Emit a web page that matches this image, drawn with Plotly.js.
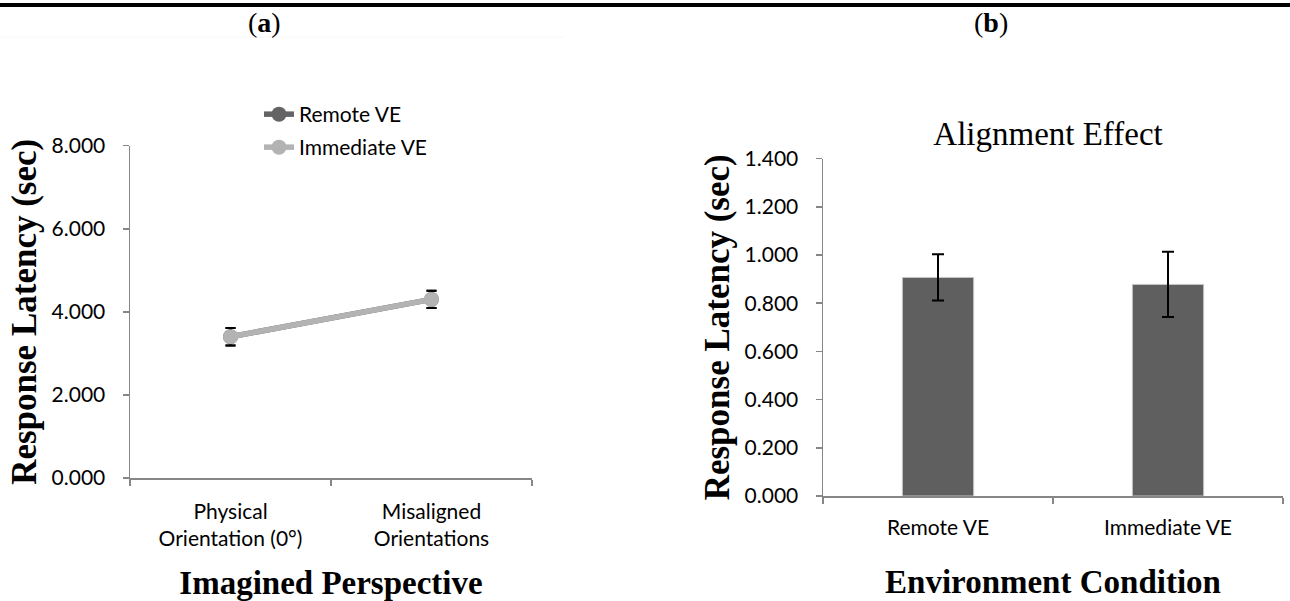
<!DOCTYPE html>
<html><head><meta charset="utf-8">
<script src="https://cdn.plot.ly/plotly-3.0.1.min.js"></script>
<style>html,body{margin:0;padding:0;background:#fff}#chart{width:1290px;height:601px}</style>
</head><body><div id="chart"></div>
<script>
// ---- data ----
const perspectives = ["Physical<br>Orientation (0°)", "Misaligned<br>Orientations"];
const remoteLatency = [3.40, 4.30];
const remoteErr = [0.21, 0.21];
const immediateLatency = [3.40, 4.30];
const immediateErr = [0.21, 0.21];
const environments = ["Remote VE", "Immediate VE"];
const alignmentEffect = [0.907, 0.878];
const alignmentErr = [0.096, 0.135];
const yTicksA = [0, 2, 4, 6, 8];
const yTicksB = [0, 0.2, 0.4, 0.6, 0.8, 1.0, 1.2, 1.4];

// ---- layout helpers ----
const W = 1290, H = 601;
const px = v => v / W;
const py = v => 1 - v / H;
const axisGrey = '#868686';
const tickFont = {family: 'Lato, "Open Sans", sans-serif', size: 21, color: '#000'};
const serif = '"Liberation Serif", "Times New Roman", serif';
const xTitleFont = {family: serif, size: 33, color: '#000', weight: 'bold'};
const yTitleFont = {family: serif, size: 35, color: '#000', weight: 'bold'};

const traces = [
  {
    type: 'scatter', mode: 'lines+markers', name: 'Remote VE', legend: 'legend',
    x: perspectives, y: remoteLatency, xaxis: 'x', yaxis: 'y',
    line: {color: '#646464', width: 5.5},
    marker: {color: '#646464', size: 15},
    error_y: {type: 'data', array: remoteErr, visible: true, color: '#000', thickness: 2, width: 5}
  },
  {
    type: 'scatter', mode: 'lines+markers', name: 'Immediate VE', legend: 'legend2',
    x: perspectives, y: immediateLatency, xaxis: 'x', yaxis: 'y',
    line: {color: '#b3b3b3', width: 5.5},
    marker: {color: '#b3b3b3', size: 15},
    error_y: {type: 'data', array: immediateErr, visible: true, color: '#000', thickness: 2, width: 5}
  },
  {
    type: 'bar', name: 'Alignment Effect', showlegend: false,
    x: environments, y: alignmentEffect, xaxis: 'x2', yaxis: 'y2',
    marker: {color: '#5f5f5f', line: {color: '#c8c8c8', width: 1}},
    error_y: {type: 'data', array: alignmentErr, visible: true, color: '#000', thickness: 2, width: 6}
  }
];

const commonX = {
  type: 'category', showline: true, linecolor: axisGrey, linewidth: 1.5,
  ticks: 'outside', tickson: 'boundaries', ticklen: 6, tickcolor: axisGrey, tickwidth: 1.5,
  tickfont: tickFont, showgrid: false, zeroline: false, automargin: false,
  range: [-0.5, 1.5], fixedrange: true
};
const commonY = {
  showline: true, linecolor: axisGrey, linewidth: 1.5,
  ticks: 'outside', ticklen: 6, tickcolor: axisGrey, tickwidth: 1.5,
  tickfont: tickFont, showgrid: false, zeroline: false, automargin: false,
  tickformat: '.3f', ticklabelstandoff: 13, fixedrange: true
};

const layout = {
  width: W, height: H,
  margin: {l: 0, r: 0, t: 0, b: 0},
  paper_bgcolor: '#fff', plot_bgcolor: '#fff',
  bargap: 0.69,
  title: {
    text: 'Alignment Effect', x: px(1048), y: py(133), xanchor: 'center', yanchor: 'middle',
    xref: 'paper', yref: 'paper',
    font: {family: serif, size: 33, color: '#000'}
  },
  xaxis: Object.assign({}, commonX, {
    domain: [px(130), px(532)], anchor: 'y', ticklabelstandoff: 14,
    title: {text: 'Imagined Perspective', font: xTitleFont, standoff: 22}
  }),
  yaxis: Object.assign({}, commonY, {
    domain: [py(478), py(145.7)], anchor: 'x', range: [0, 8], tickvals: yTicksA,
    title: {text: 'Response Latency (sec)', font: yTitleFont, standoff: 4}
  }),
  xaxis2: Object.assign({}, commonX, {
    domain: [px(823), px(1283)], anchor: 'y2', ticklabelstandoff: 12,
    title: {text: 'Environment Condition', font: xTitleFont, standoff: 32}
  }),
  yaxis2: Object.assign({}, commonY, {
    domain: [py(496), py(158.6)], anchor: 'x2', range: [0, 1.4], tickvals: yTicksB,
    title: {text: 'Response Latency (sec)', font: yTitleFont, standoff: 4}
  }),
  legend: {
    x: px(259), y: py(94), xanchor: 'left', yanchor: 'top',
    font: tickFont, bgcolor: 'rgba(0,0,0,0)', borderwidth: 0
  },
  legend2: {
    x: px(259), y: py(127), xanchor: 'left', yanchor: 'top',
    font: tickFont, bgcolor: 'rgba(0,0,0,0)', borderwidth: 0
  },
  shapes: [
    {type: 'line', xref: 'paper', yref: 'paper', x0: 0, x1: 1, y0: py(5), y1: py(5),
     line: {color: '#000', width: 4}},
    {type: 'line', xref: 'paper', yref: 'paper', x0: 0, x1: px(564), y0: py(37), y1: py(37),
     line: {color: '#f8f8f8', width: 1}}
  ],
  annotations: [
    {text: '(<b>a</b>)', xref: 'paper', yref: 'paper', x: px(264), y: py(23), xanchor: 'center', yanchor: 'middle',
     showarrow: false, font: {family: serif, size: 28, color: '#000'}},
    {text: '(<b>b</b>)', xref: 'paper', yref: 'paper', x: px(991), y: py(23), xanchor: 'center', yanchor: 'middle',
     showarrow: false, font: {family: serif, size: 28, color: '#000'}}
  ],
  showlegend: true
};

Plotly.newPlot('chart', traces, layout, {staticPlot: true, displayModeBar: false});
</script>
</body></html>
